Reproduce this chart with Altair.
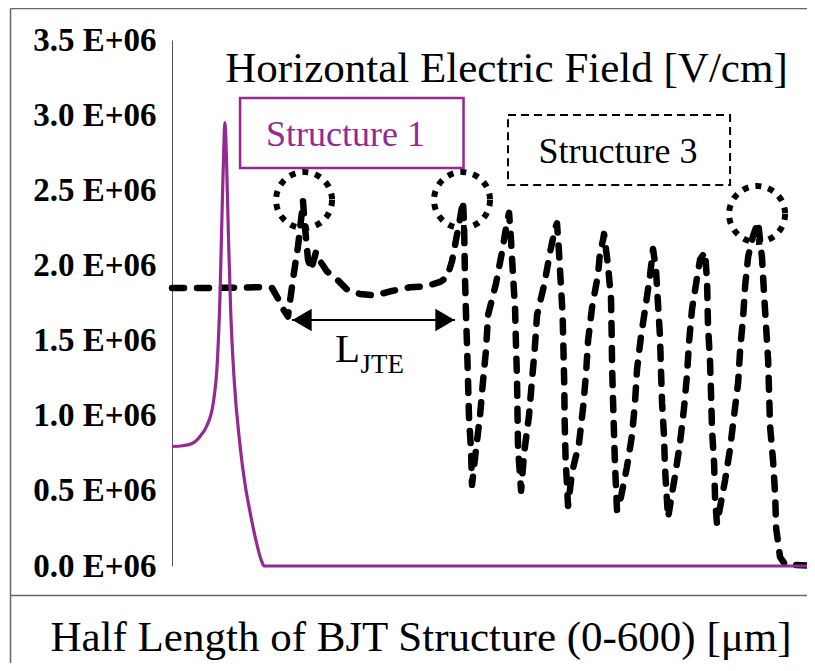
import altair as alt
import pandas as pd

# ---------------- data (x in um, field in units of 1E+06 V/cm) ----------------
s1_x = [0, 10, 19.9, 27, 32.3, 38.6, 42.3, 44.8, 46.7, 48.2, 49.3, 50.2, 51.0, 52.9,
        54.8, 57.9, 63.5, 68, 72.8, 78, 83.7, 86, 600]
s1_y = [0.795, 0.80, 0.82, 0.87, 0.93, 1.09, 1.36, 1.80, 2.35, 2.75, 2.95, 2.85, 2.66, 2.13,
        1.69, 1.25, 0.80, 0.55, 0.36, 0.18, 0.03, 0.0, 0.0]

s3_x = [0, 40, 84, 93.3, 98.9, 103.6, 108.2, 112.9, 117.6, 121.3, 122.2, 124.1, 126.9, 129.7,
        134.4, 138.1, 144.6, 152.1, 163.3, 175.4, 189.4, 205.3, 222.1, 236.1, 250.1, 256.6,
        261.3, 265.0, 268.7, 271.5, 272.5, 273.4, 274.3, 275.3, 276.2, 277.1, 279.0, 279.9,
        283.7, 287.4, 290.2, 293.0, 294.9, 302.3, 307.9, 312.6, 314.5, 316.3, 318.2, 320.1,
        321.0, 321.9, 322.4, 322.9, 325.7, 328.5, 333.1, 335.8, 338.4, 340.6, 347.5, 352.8,
        357.5, 359.2, 360.8, 362.6, 364.4, 365.2, 366.0, 366.4, 367.2, 369.5, 373.2, 379.8,
        383.5, 386.3, 388.2, 391.9, 397.5, 399.4, 402.2, 403.1, 406.8, 409.6, 410.2, 410.6,
        411.5, 412.4, 413.4, 415.2, 418.9, 424.5, 429.2, 432.0, 433.9, 437.6, 442.3, 446.1,
        448.8, 451.6, 453.4, 455.3, 456.2, 457.2, 459.0, 460.0, 462.8, 469.3, 474.0, 477.7,
        480.5, 482.4, 485.2, 489.9, 492.7, 497.3, 499.2, 500.1, 502.0, 503.0, 503.9, 505.8,
        506.7, 508.5, 516.0, 520.7, 524.4, 528.2, 530.1, 532.9, 534.8, 537.6, 542.3, 546.8,
        550.5, 552.4, 554.3, 556.2, 557.1, 558.0, 560.8, 562.7, 563.7, 567.3, 572.0, 600.0]
s3_y = [1.85, 1.85, 1.855, 1.85, 1.78, 1.71, 1.66, 1.91, 2.13, 2.36, 2.43, 2.25, 2.04, 1.97,
        2.09, 2.03, 1.96, 1.92, 1.84, 1.81, 1.80, 1.83, 1.855, 1.86, 1.89, 1.92,
        2.03, 2.17, 2.31, 2.43, 2.27, 1.91, 1.68, 1.46, 1.23, 0.99, 0.77, 0.54,
        0.78, 1.00, 1.23, 1.44, 1.67, 1.88, 2.09, 2.29, 2.35, 2.17, 1.93, 1.71,
        1.46, 1.25, 1.00, 0.78, 0.50, 0.75, 1.00, 1.23, 1.44, 1.67, 1.88, 2.09,
        2.25, 2.28, 2.12, 1.90, 1.68, 1.45, 1.20, 0.95, 0.72, 0.40, 0.62, 0.82,
        1.05, 1.28, 1.50, 1.72, 1.94, 2.09, 2.17, 2.21, 2.00, 1.78, 1.55, 1.33,
        1.10, 0.88, 0.66, 0.37, 0.46, 0.66, 0.87, 1.09, 1.31, 1.53, 1.75, 1.94,
        2.11, 1.97, 1.75, 1.53, 1.31, 1.09, 0.87, 0.65, 0.32, 0.60, 0.82, 1.05,
        1.27, 1.49, 1.71, 1.92, 2.04, 2.09, 1.90, 1.60, 1.36, 1.13, 0.90, 0.68,
        0.45, 0.28, 0.57, 0.78, 1.00, 1.22, 1.44, 1.66, 1.87, 2.06, 2.20, 2.29,
        2.05, 1.81, 1.59, 1.37, 1.15, 0.93, 0.70, 0.48, 0.25, 0.06, 0.01, 0.0]

y_ticks = [0, 0.5, 1.0, 1.5, 2.0, 2.5, 3.0, 3.5]

# annotations
circle_x = [123.2, 270.6, 545.9]
circle_y = [2.435, 2.435, 2.342]

arrow_x = [112.0]
arrow_x2 = [264.1]
arrow_y = [1.637]
head_x = [121.3, 254.7]
head_shape = ["triangle-left", "triangle-right"]

box_names = ["Structure 1", "Structure 3"]
box_x = [63.5, 313.5]
box_x2 = [272.0, 520.7]
box_y = [3.114, 3.001]
box_y2 = [2.648, 2.535]
box_text_x = [161.9, 416.2]
box_text_y = [2.794, 2.681]

title_text = "Horizontal Electric Field [V/cm]"
title_pos = (312.1, 3.220)
x_title = "Half Length of BJT Structure (0-600) [μm]"

PURPLE = "#932A92"
SERIF = "Liberation Serif"

# ---------------- scales / axes ----------------
xs = alt.Scale(domain=[0, 585.0], nice=False, zero=False)
ys = alt.Scale(domain=[0, 3.5], nice=False)
x_axis = alt.Axis(labels=False, ticks=False, domain=False, grid=False, title=x_title,
                  titleFont=SERIF, titleFontSize=43, titleFontWeight="normal",
                  titleColor="black", titleX=248.5, titleY=84, titleBaseline="alphabetic",
                  titleAlign="center")
y_axis = alt.Axis(values=y_ticks, labelExpr="format(datum.value, '.1f') + ' E+06'",
                  grid=False, ticks=False, domainColor="#555555", domainWidth=1,
                  labelFont=SERIF, labelFontSize=33, labelFontWeight="bold",
                  labelColor="black", labelPadding=16, title=None)


def X(f="x"):
    return alt.X(f + ":Q", scale=xs, axis=x_axis)


def Y(f="y"):
    return alt.Y(f + ":Q", scale=ys, axis=y_axis)


one = pd.DataFrame({"a": [0]})

# frame lines (decoration around the figure)
frame_left = alt.Chart(one).mark_rule(color="#666666", strokeWidth=1.5).encode(
    x=alt.value(-161.5), y=alt.value(-31.5), y2=alt.value(640))
frame_top = alt.Chart(one).mark_rule(color="#666666", strokeWidth=1.5).encode(
    x=alt.value(-161.5), x2=alt.value(640), y=alt.value(-31.5))
frame_sep = alt.Chart(one).mark_rule(color="#666666", strokeWidth=1.5).encode(
    x=alt.value(-161.5), x2=alt.value(640), y=alt.value(555.5))

df1 = pd.DataFrame({"x": s1_x, "y": s1_y})
df3 = pd.DataFrame({"x": s3_x, "y": s3_y})

line3 = alt.Chart(df3).mark_line(color="black", strokeWidth=6.5, strokeDash=[12, 13],
                                 strokeCap="round", strokeJoin="round").encode(x=X(), y=Y())
line1 = alt.Chart(df1).mark_line(color=PURPLE, strokeWidth=3.2,
                                 interpolate="monotone").encode(x=X(), y=Y())

circles = alt.Chart(pd.DataFrame({"x": circle_x, "y": circle_y})).mark_point(
    shape="circle", size=3136, filled=False, stroke="black", strokeWidth=6,
    strokeDash=[6, 7], opacity=1).encode(x=X(), y=Y())

arrow = alt.Chart(pd.DataFrame({"x": arrow_x, "x2": arrow_x2, "y": arrow_y})).mark_rule(
    color="black", strokeWidth=1.8).encode(x=X(), x2=alt.X2("x2:Q"), y=Y())
heads = alt.Chart(pd.DataFrame({"x": head_x, "y": arrow_y * 2, "s": head_shape})).mark_point(
    filled=True, color="black", size=500, opacity=1).encode(
    x=X(), y=Y(), shape=alt.Shape("s:N", scale=None, legend=None))

ljte_L = alt.Chart(pd.DataFrame({"x": [175.4], "y": [1.357], "t": ["L"]})).mark_text(
    font=SERIF, fontSize=41, align="right", baseline="alphabetic", color="black").encode(
    x=X(), y=Y(), text="t:N")
ljte_sub = alt.Chart(pd.DataFrame({"x": [175.8], "y": [1.284], "t": ["JTE"]})).mark_text(
    font=SERIF, fontSize=27, align="left", baseline="alphabetic", color="black").encode(
    x=X(), y=Y(), text="t:N")

box1 = alt.Chart(pd.DataFrame({"x": [box_x[0]], "x2": [box_x2[0]], "y": [box_y[0]],
                               "y2": [box_y2[0]]})).mark_rect(
    fillOpacity=0, stroke=PURPLE, strokeWidth=2.5).encode(
    x=X(), x2=alt.X2("x2:Q"), y=Y(), y2=alt.Y2("y2:Q"))
box3 = alt.Chart(pd.DataFrame({"x": [box_x[1]], "x2": [box_x2[1]], "y": [box_y[1]],
                               "y2": [box_y2[1]]})).mark_rect(
    fillOpacity=0, stroke="black", strokeWidth=2, strokeDash=[8, 5]).encode(
    x=X(), x2=alt.X2("x2:Q"), y=Y(), y2=alt.Y2("y2:Q"))

txt1 = alt.Chart(pd.DataFrame({"x": [box_text_x[0]], "y": [box_text_y[0]],
                               "t": [box_names[0]]})).mark_text(
    font=SERIF, fontSize=36, align="center", baseline="alphabetic", color=PURPLE).encode(
    x=X(), y=Y(), text="t:N")
txt3 = alt.Chart(pd.DataFrame({"x": [box_text_x[1]], "y": [box_text_y[1]],
                               "t": [box_names[1]]})).mark_text(
    font=SERIF, fontSize=36, align="center", baseline="alphabetic", color="black").encode(
    x=X(), y=Y(), text="t:N")

title = alt.Chart(pd.DataFrame({"x": [title_pos[0]], "y": [title_pos[1]],
                                "t": [title_text]})).mark_text(
    font=SERIF, fontSize=43, align="center", baseline="alphabetic", color="black").encode(
    x=X(), y=Y(), text="t:N")

chart = alt.layer(
    frame_left, frame_top, frame_sep,
    line3, line1, circles, arrow, heads, ljte_L, ljte_sub,
    box1, box3, txt1, txt3, title,
).properties(
    width=627, height=526,
    padding={"left": 164, "top": 32, "right": 8, "bottom": 97},
    autosize=alt.AutoSizeParams(type="none"),
    background="white",
).configure_view(stroke="transparent", strokeWidth=0)

chart.save("out.html", embed_options={"renderer": "svg", "actions": False})
